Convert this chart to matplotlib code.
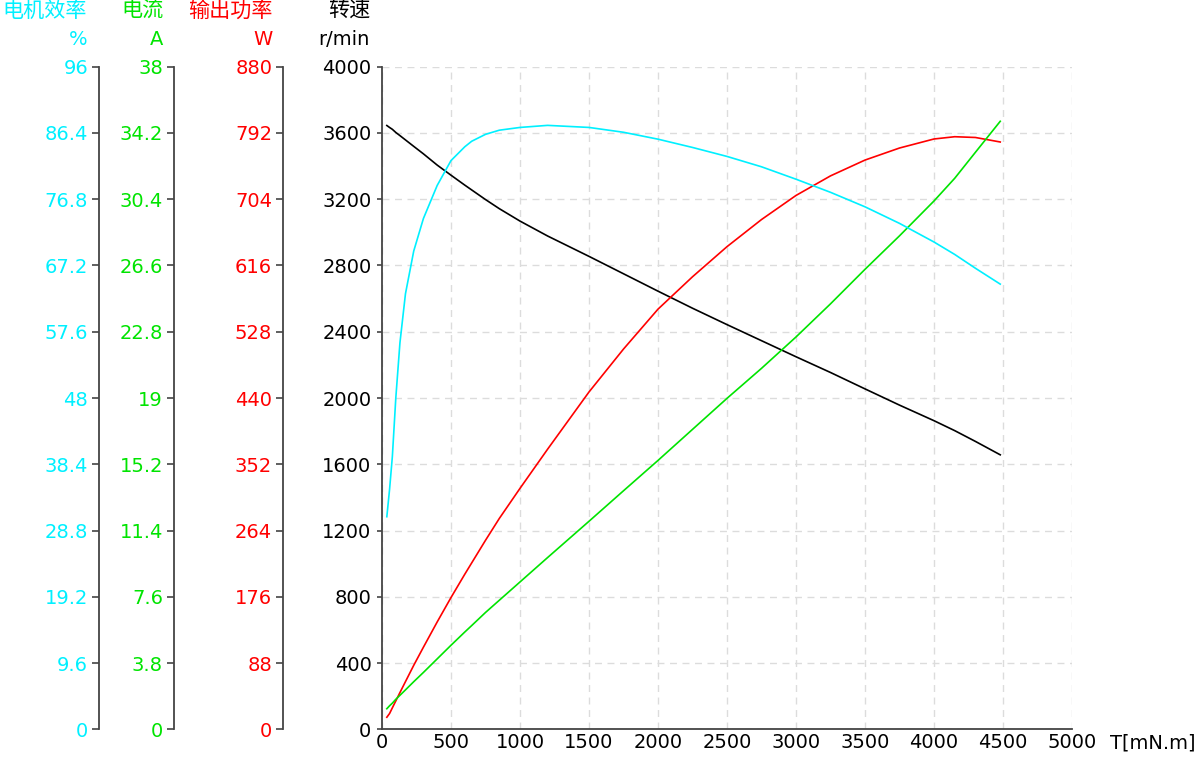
import matplotlib.pyplot as plt
import numpy as np

plt.rcParams["font.family"] = ["DejaVu Sans", "Noto Sans CJK SC"]

# torque in mN.m
torque = [35, 55, 75, 100, 130, 170, 230, 300, 400, 500, 600, 650, 750, 850,
          1000, 1200, 1500, 1750, 2000, 2250, 2500, 2750, 3000, 3250, 3500,
          3750, 4000, 4150, 4300, 4480]
# r/min
speed = [3645, 3633, 3622, 3603, 3584, 3558, 3519, 3474, 3406, 3345, 3285,
         3256, 3198, 3143, 3068, 2978, 2855, 2750, 2645, 2542, 2443, 2346,
         2249, 2154, 2055, 1957, 1863, 1803, 1738, 1657]
# %
efficiency = [30.8, 34.8, 39.5, 48.0, 56.0, 63.1, 69.3, 74.0, 78.8, 82.4,
              84.4, 85.2, 86.2, 86.8, 87.2, 87.5, 87.2, 86.5, 85.5, 84.3,
              83.0, 81.5, 79.7, 77.8, 75.7, 73.3, 70.6, 68.8, 66.8, 64.5]
# A
current = [1.18, 1.35, 1.5, 1.72, 1.95, 2.26, 2.73, 3.26, 4.04, 4.82, 5.58,
           5.95, 6.7, 7.4, 8.45, 9.85, 11.93, 13.68, 15.42, 17.2, 18.98,
           20.7, 22.5, 24.4, 26.38, 28.3, 30.3, 31.6, 33.09, 34.87]
# W
power = [16, 21, 28.5, 37.7, 48.8, 63.3, 85, 109, 142.6, 175, 206, 221,
         251, 280, 320, 372, 448, 505, 558, 601, 641, 677, 709, 735, 756,
         772, 784, 787, 786, 780]

speed_ticks = np.arange(0, 4001, 400)
torque_ticks = np.arange(0, 5001, 500)
eff_ticks = [0, 9.6, 19.2, 28.8, 38.4, 48, 57.6, 67.2, 76.8, 86.4, 96]
cur_ticks = [0, 3.8, 7.6, 11.4, 15.2, 19, 22.8, 26.6, 30.4, 34.2, 38]
pow_ticks = [0, 88, 176, 264, 352, 440, 528, 616, 704, 792, 880]

CYAN = "#00f0ff"
GREEN = "#00e400"
RED = "#ff0000"
SPINE = "#444444"
FS = 14
FS_CJK = 15.2

fig = plt.figure(figsize=(12, 7.61), dpi=100)
ax = fig.add_axes([382 / 1200, 1 - 729.3 / 761, 690 / 1200, 662.6 / 761])

ax.set_xlim(0, 5000)
ax.set_ylim(0, 4000)
ax.set_xticks(torque_ticks)
ax.set_yticks(speed_ticks)
ax.grid(True, color="#dcdcdc", linestyle=(0, (5, 4)), linewidth=1)
for s in ["top", "right"]:
    ax.spines[s].set_visible(False)
for s in ["left", "bottom"]:
    ax.spines[s].set_color(SPINE)
    ax.spines[s].set_linewidth(1.3)
ax.tick_params(axis="y", labelsize=FS, colors=SPINE, length=3.6, width=1.2,
               pad=4, labelcolor="black")
ax.tick_params(axis="x", labelsize=FS, length=0, pad=3, labelcolor="black")
ax.plot(torque, speed, color="black", lw=1.2, zorder=3)


def side_axis(pos, lim, ticks, color, values):
    a = ax.twinx()
    a.set_ylim(0, lim)
    a.set_yticks(ticks)
    a.set_yticklabels([f"{t:g}" for t in ticks])
    a.yaxis.set_ticks_position("left")
    a.yaxis.set_label_position("left")
    a.spines["left"].set_position(("axes", pos))
    a.spines["left"].set_color(SPINE)
    a.spines["left"].set_linewidth(1.3)
    for s in ["top", "right", "bottom"]:
        a.spines[s].set_visible(False)
    a.tick_params(axis="y", labelsize=FS, colors=SPINE, labelcolor=color,
                  length=5, width=1.2, pad=3)
    a.plot(torque, values, color=color, lw=1.2)
    return a


side_axis(-0.1430, 880, pow_ticks, RED, power)
side_axis(-0.3014, 38, cur_ticks, GREEN, current)
side_axis(-0.4097, 96, eff_ticks, CYAN, efficiency)

titles = [
    (-0.4271, "电机效率", "%", CYAN),
    (-0.3170, "电流", "A", GREEN),
    (-0.1584, "输出功率", "W", RED),
    (-0.0174, "转速", "r/min", "black"),
]
for x, name, unit, c in titles:
    ax.text(x, 1.084, name, transform=ax.transAxes, ha="right", va="center",
            fontsize=FS_CJK, color=c)
    ax.text(x, 1.0418, unit, transform=ax.transAxes, ha="right", va="center",
            fontsize=FS, color=c)

ax.text(1.055, -0.0207, "T[mN.m]", transform=ax.transAxes, ha="left",
        va="center", fontsize=FS)

fig.savefig("out.png", dpi=100)
